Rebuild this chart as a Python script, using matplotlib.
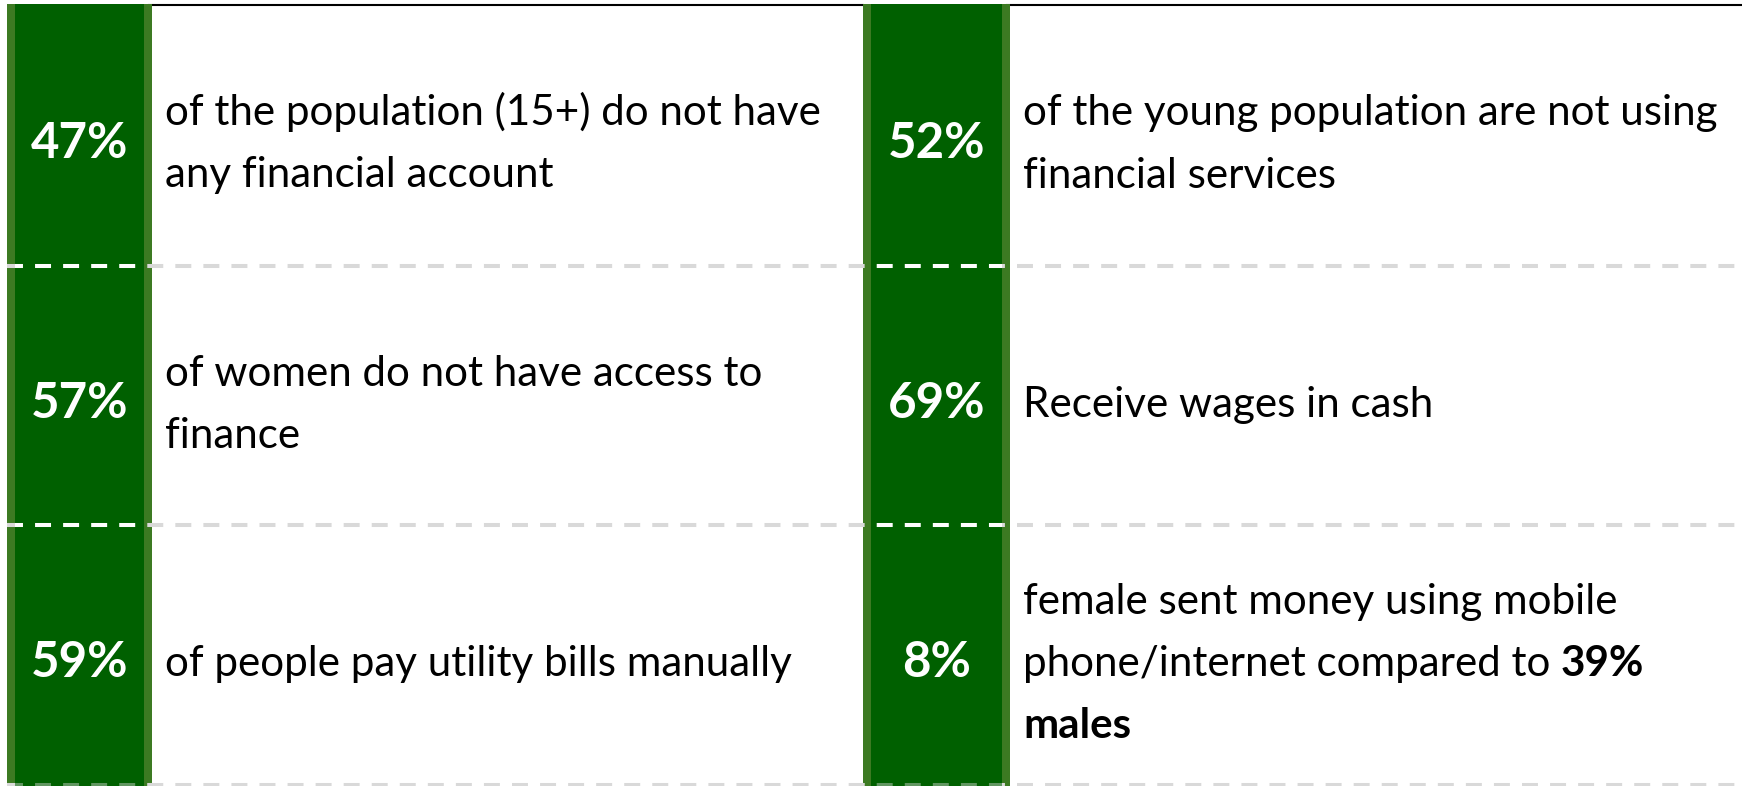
import matplotlib
matplotlib.use('Agg')
import matplotlib.pyplot as plt
from matplotlib.patches import Rectangle

# data
pct_left = ['47%', '57%', '59%']
pct_right = ['52%', '69%', '8%']
desc_left = [
    ['of the population (15+) do not have', 'any financial account'],
    ['of women do not have access to', 'finance'],
    ['of people pay utility bills manually'],
]
desc_right = [
    ['of the young population are not using', 'financial services'],
    ['Receive wages in cash'],
    ['female sent money using mobile', 'phone/internet compared to **39%**', '**males**'],
]

# layout (pixels)
W, H = 1742, 786
row_edges = [4, 265, 524, 784]
boxes = [(7, 152), (863, 1010)]   # outer x-range of green boxes
border = 8
text_x = [165, 1023]
line_gap = 62

dark_green = '#006000'
light_green = '#3c7a22'
grid_grey = '#d9d9d9'
font = 'Lato'
body_size = 30.3
pct_size = 35.5

plt.rcParams['lines.scale_dashes'] = False

fig = plt.figure(figsize=(W / 100, H / 100), dpi=100)
ax = fig.add_axes([0, 0, 1, 1])
ax.set_xlim(0, W)
ax.set_ylim(H, 0)
ax.axis('off')

dash = (0, (11.5, 8.7))
lw = 2.9

# top black rule, broken by the boxes
ax.plot([boxes[0][1] - 3, boxes[1][0]], [5, 5], color='black', lw=1.5, zorder=1)
ax.plot([boxes[1][1] - 3, W], [5, 5], color='black', lw=1.5, zorder=1)

inner = []
for x0, x1 in boxes:
    outer = Rectangle((x0, row_edges[0]), x1 - x0, H - row_edges[0],
                      facecolor=light_green, edgecolor='none', zorder=1)
    ax.add_patch(outer)
    r = Rectangle((x0 + border, row_edges[0]), x1 - x0 - 2 * border, H - row_edges[0],
                  facecolor=dark_green, edgecolor='none', zorder=3)
    ax.add_patch(r)
    inner.append((outer, r))

# dashed row separators
for y in row_edges[1:]:
    ax.plot([7, W], [y + 1, y + 1], color=grid_grey, lw=lw, linestyle=dash,
            solid_capstyle='butt', dash_capstyle='butt', zorder=2)
    for outer, r in inner:
        if y < row_edges[-1]:
            ln, = ax.plot([7, W], [y + 1, y + 1], color='white', lw=lw, linestyle=dash,
                          dash_capstyle='butt', zorder=4)
            ln.set_clip_path(r)
        else:
            ln, = ax.plot([7, W], [y + 1, y + 1], color=grid_grey, lw=lw, linestyle=dash,
                          dash_capstyle='butt', alpha=0.45, zorder=4)
            ln.set_clip_path(outer)


def draw_line(x, y, line):
    parts = line.split('**')
    prev = None
    for k, part in enumerate(parts):
        if not part.strip():
            continue
        weight = 'bold' if k % 2 == 1 else 'normal'
        txt = part.strip()
        if prev is None:
            prev = ax.text(x, y, txt, fontsize=body_size, family=font,
                           fontweight=weight, ha='left', va='baseline', zorder=5)
        else:
            prev = ax.annotate(txt, xy=(1, 0), xycoords=prev, xytext=(7.2, 0),
                               textcoords='offset points', fontsize=body_size,
                               family=font, fontweight=weight, ha='left',
                               va='bottom', zorder=5)


for col, (pcts, descs) in enumerate([(pct_left, desc_left), (pct_right, desc_right)]):
    x0, x1 = boxes[col]
    for i in range(3):
        yc = (row_edges[i] + row_edges[i + 1]) / 2
        ax.text((x0 + x1) / 2, yc + 23, pcts[i], color='white', fontsize=pct_size,
                family=font, fontweight='bold', ha='center', va='baseline', zorder=5)
        lines = descs[i]
        n = len(lines)
        for j, line in enumerate(lines):
            draw_line(text_x[col], yc + 22 + (j - (n - 1) / 2) * line_gap, line)

fig.savefig('out.png', dpi=100, facecolor='white')
